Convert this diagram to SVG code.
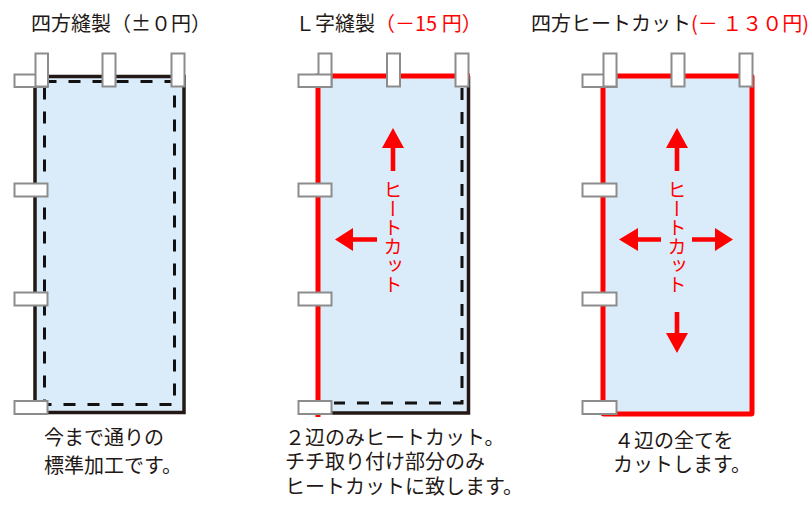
<svg xmlns="http://www.w3.org/2000/svg" width="810" height="506" viewBox="0 0 810 506">
<defs>
<style>
.t{font-family:"Noto Sans CJK JP","Noto Sans",sans-serif;font-size:20px;fill:#231815}
.b{font-family:"Liberation Sans","Noto Sans CJK JP",sans-serif;font-size:20px;fill:#231815}
.r{fill:#ff0000}
.fill{fill:#daecfa}
.blk{fill:none;stroke:#231815;stroke-width:3.5}
.red{fill:none;stroke:#ff0000;stroke-width:5}
.dash{fill:none;stroke:#111;stroke-width:3;stroke-dasharray:12 12}
.tab{fill:#fff;stroke:#8c8c8c;stroke-width:2}
.vt{font-family:"Noto Sans CJK JP","Noto Sans",sans-serif;font-size:19px;fill:#ff0000;writing-mode:vertical-rl}
.arr{fill:#ff0000}
</style>
</defs>
<rect width="810" height="506" fill="#fff"/>

<g id="panel1">
<text class="t" x="31" y="31">四方縫製（±０円）</text>
<rect class="fill" x="35" y="76.5" width="149" height="336"/>
<rect class="blk" x="35" y="76.5" width="149" height="336"/>
<rect class="dash" x="44.5" y="81.5" width="130" height="323"/>
<rect class="tab" x="14.5" y="74.5" width="33" height="12.5"/>
<rect class="tab" x="35.5" y="53.5" width="12.5" height="33"/>
<rect class="tab" x="102.5" y="53.5" width="13" height="33"/>
<rect class="tab" x="171.5" y="53.5" width="13" height="33"/>
<rect class="tab" x="14.5" y="183.5" width="33" height="13"/>
<rect class="tab" x="14.5" y="292.5" width="33" height="13"/>
<rect class="tab" x="14.5" y="401" width="33" height="13"/>
<text class="b" x="44" y="445">今まで通りの</text>
<text class="b" x="44" y="473">標準加工です。</text>
</g>

<g id="panel2">
<text class="t" x="295" y="31">Ｌ字縫製<tspan class="r">（－15 円）</tspan></text>
<rect class="fill" x="318" y="76" width="150" height="337"/>
<path class="blk" d="M468.5 76 V413 H318"/>
<path class="red" d="M318 74 V417 M316 76 H470"/>
<path class="dash" d="M462 88 V403 H334"/>
<rect class="tab" x="318.5" y="53.5" width="13" height="33"/>
<rect class="tab" x="298.5" y="74.5" width="33" height="12.5"/>
<rect class="tab" x="387" y="53.5" width="13" height="33"/>
<rect class="tab" x="455.5" y="53.5" width="13" height="33"/>
<rect class="tab" x="298.5" y="183.5" width="33" height="13"/>
<rect class="tab" x="298.5" y="292.5" width="33" height="13"/>
<rect class="tab" x="298.5" y="401" width="33" height="13"/>
<path class="arr" d="M393 128 L404 148 H395.3 V171 H390.7 V148 H382 Z"/>
<path class="arr" d="M335 239.5 L353 228 V237.2 H377 V241.8 H353 V251 Z"/>
<text class="vt" x="393" y="180">ヒートカット</text>
<text class="b" x="285" y="445">２辺のみヒートカット。</text>
<text class="b" x="285" y="469">チチ取り付け部分のみ</text>
<text class="b" x="285" y="494">ヒートカットに致します。</text>
</g>

<g id="panel3">
<text class="t" x="531" y="31">四方ヒートカット<tspan class="r">(－ １３０円)</tspan></text>
<rect class="fill" x="603" y="76" width="149" height="338"/>
<rect class="red" x="603" y="76" width="149" height="338" rx="1"/>
<rect class="tab" x="582.5" y="74.5" width="34" height="12.5"/>
<rect class="tab" x="603.5" y="53.5" width="13" height="33"/>
<rect class="tab" x="671.5" y="53.5" width="13" height="33"/>
<rect class="tab" x="739.5" y="53.5" width="13" height="33"/>
<rect class="tab" x="582.5" y="183.5" width="34" height="13"/>
<rect class="tab" x="582.5" y="292.5" width="34" height="13"/>
<rect class="tab" x="582.5" y="401" width="34" height="13"/>
<path class="arr" d="M677 128 L688 148 H679.3 V171 H674.7 V148 H666 Z"/>
<path class="arr" d="M619 239.5 L638 228 V237.2 H661 V241.8 H638 V251 Z"/>
<path class="arr" d="M733 239.5 L715 228 V237.2 H692 V241.8 H715 V251 Z"/>
<path class="arr" d="M677 353 L688 333 H679.3 V312 H674.7 V333 H666 Z"/>
<text class="vt" x="677" y="180">ヒートカット</text>
<text class="b" x="614" y="448">４辺の全てを</text>
<text class="b" x="613" y="472">カットします。</text>
</g>
</svg>
